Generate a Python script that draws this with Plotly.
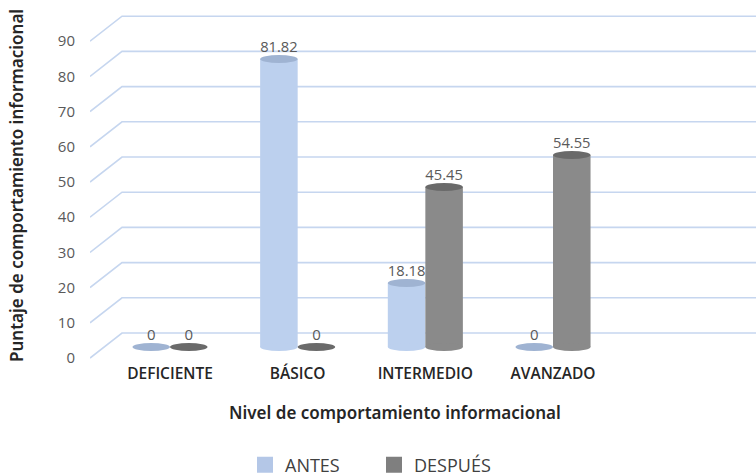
import plotly.graph_objects as go

# Data
categories = ["DEFICIENTE", "BÁSICO", "INTERMEDIO", "AVANZADO"]
antes = [0, 81.82, 18.18, 0]
despues = [0, 0, 45.45, 54.55]
y_ticks = [0, 10, 20, 30, 40, 50, 60, 70, 80, 90]
series_names = ["ANTES", "DESPUÉS"]

# Colours
body = {"ANTES": "#bcd0ee", "DESPUÉS": "#8a8a8a"}
cap = {"ANTES": "#9fb3d2", "DESPUÉS": "#6a6a6a"}
legend_col = {"ANTES": "#b4c7e7", "DESPUÉS": "#7f7f7f"}
grid_col = "#c6d6ef"

# Geometry of the plotting area (pixels)
W, H = 756, 476
ML, MR, MT, MB = 90, 0, 5, 116
plot_h = H - MT - MB
px_per_unit = 3.52                      # vertical scale
base_px = 347                           # pixel row of value 0 for the bars
y_min = -(H - MB - base_px) / px_per_unit
y_max = y_min + plot_h / px_per_unit

px_per_cat = 127.67
x_min = -(170 - ML) / px_per_cat
x_max = x_min + (W - ML - MR) / px_per_cat
bar_w = 0.294

back_shift = 14 / px_per_unit           # back wall sits above bar base
front_shift = -11 / px_per_unit         # front edge sits below bar base
depth_x = 32 / px_per_cat

fig = go.Figure()

for name, vals, off in [("ANTES", antes, -bar_w), ("DESPUÉS", despues, 0.0)]:
    fig.add_trace(go.Bar(
        x=categories, y=vals, name=name, width=bar_w, offset=off,
        marker=dict(color=body[name], line=dict(width=0)),
        text=[f"{v:g}" for v in vals], textposition="outside",
        textfont=dict(family="Open Sans", size=15, color="#595959"),
        cliponaxis=False, showlegend=False,
    ))
    # legend entry only (lives on the front-edge value axis)
    fig.add_trace(go.Scatter(
        x=[None], y=[None], mode="markers", name=name, yaxis="y2",
        marker=dict(symbol="square", size=20, color=legend_col[name]),
    ))

shapes = []
# Back wall gridlines with the receding floor edge
for v in y_ticks:
    shapes.append(dict(
        type="path", xref="x", yref="y", layer="below",
        path=f"M{x_min},{v + front_shift} L{x_min + depth_x},{v + back_shift} L{x_max},{v + back_shift}",
        line=dict(color=grid_col, width=1.6),
    ))

# Elliptical caps that give the bars a cylinder look
for name, vals, off in [("ANTES", antes, -bar_w), ("DESPUÉS", despues, 0.0)]:
    for i, v in enumerate(vals):
        x0, x1 = i + off, i + off + bar_w
        if v > 0:
            shapes.append(dict(type="circle", xref="x", yref="y", ysizemode="pixel",
                               yanchor=0, x0=x0, x1=x1, y0=-4, y1=4,
                               fillcolor=body[name], line=dict(width=0), layer="above"))
        shapes.append(dict(type="circle", xref="x", yref="y", ysizemode="pixel",
                           yanchor=v, x0=x0, x1=x1, y0=-4, y1=4,
                           fillcolor=cap[name], line=dict(width=0), layer="above"))

fig.update_layout(
    width=W, height=H,
    margin=dict(l=ML, r=MR, t=MT, b=MB, autoexpand=False),
    paper_bgcolor="white", plot_bgcolor="white",
    barmode="overlay",
    shapes=shapes,
    font=dict(family="Open Sans", color="#595959"),
    xaxis=dict(range=[x_min, x_max], showgrid=False, zeroline=False, showline=False,
               ticks="", ticklabelstandoff=2,
               tickfont=dict(family="Open Sans", size=15.5, color="#262626", weight=600),
               categoryorder="array", categoryarray=categories),
    # bar value axis (no labels)
    yaxis=dict(range=[y_min, y_max], showgrid=False, zeroline=False,
               showline=False, ticks="", showticklabels=False),
    # labelled value axis along the front edge of the floor
    yaxis2=dict(range=[y_min - front_shift, y_max - front_shift], overlaying="y", side="left",
                tickvals=y_ticks, showgrid=False, zeroline=False, showline=False, ticks="",
                ticklabelstandoff=14,
                tickfont=dict(family="Open Sans", size=15, color="#595959")),
    legend=dict(orientation="h", x=(245 - ML) / (W - ML), xanchor="left",
                y=(H - MB - 465) / plot_h, yanchor="middle",
                font=dict(family="Open Sans", size=18, color="#404040"),
                entrywidth=84, itemwidth=30),
    annotations=[
        dict(text="Nivel de comportamiento informacional", xref="paper", yref="paper",
             x=(395 - ML) / (W - ML), y=(H - MB - 412) / plot_h, showarrow=False,
             xanchor="center", yanchor="middle",
             font=dict(family="Noto Sans", size=17, color="#262626", weight=600)),
        dict(text="Puntaje de comportamiento informacional", xref="paper", yref="paper",
             x=(16 - ML) / (W - ML), y=(H - MB - 186) / plot_h, showarrow=False,
             textangle=-90, xanchor="center", yanchor="middle",
             font=dict(family="Noto Sans", size=17, color="#262626", weight=600)),
    ],
)

fig.write_html("out.html")
